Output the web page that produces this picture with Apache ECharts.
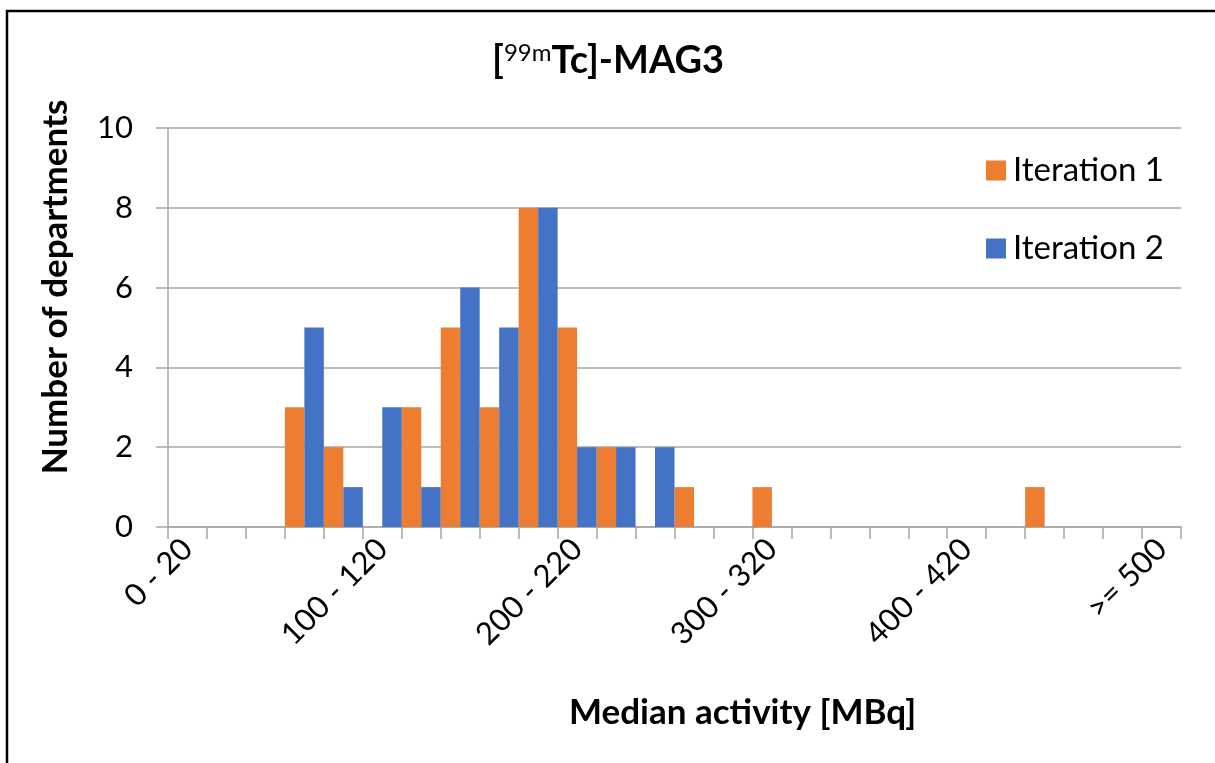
<!DOCTYPE html>
<html>
<head>
<meta charset="utf-8">
<script src="https://cdn.jsdelivr.net/npm/echarts@6/dist/echarts.min.js"></script>
<style>
html,body{margin:0;padding:0;background:#fff;}
#chart{width:1215px;height:763px;}
</style>
</head>
<body>
<div id="chart"></div>
<script>
var categories = ['0 - 20','20 - 40','40 - 60','60 - 80','80 - 100','100 - 120','120 - 140','140 - 160','160 - 180','180 - 200','200 - 220','220 - 240','240 - 260','260 - 280','280 - 300','300 - 320','320 - 340','340 - 360','360 - 380','380 - 400','400 - 420','420 - 440','440 - 460','460 - 480','480 - 500','>= 500'];
var iteration1 = [0,0,0,3,2,0,3,5,3,8,5,2,0,1,0,1,0,0,0,0,0,0,1,0,0,0];
var iteration2 = [0,0,0,5,1,3,1,6,5,8,2,2,2,0,0,0,0,0,0,0,0,0,0,0,0,0];
var yTicks = [0,2,4,6,8,10];

var FONT = 'Lato';
var chart = echarts.init(document.getElementById('chart'), null, {renderer:'canvas'});
chart.setOption({
  backgroundColor:'#fff',
  animation:false,
  title:[{
    text:'[{sup|99m}Tc]-MAG3',
    left:487, top:36,
    textStyle:{fontFamily:FONT,fontSize:38,fontWeight:'bold',color:'#000',
      rich:{sup:{fontFamily:FONT,fontSize:24,fontWeight:'normal',color:'#000',verticalAlign:'top',padding:[0,0,16,0]}}}
  },{
    text:'Median activity [MBq]',
    left:564, top:690,
    textStyle:{fontFamily:FONT,fontSize:35,fontWeight:'bold',color:'#000'}
  }],
  graphic:[{
    type:'rect', silent:true, z:100,
    shape:{x:7,y:11,width:1400,height:1000},
    style:{fill:'none',stroke:'#000',lineWidth:2.5}
  },{
    type:'text', silent:true,
    x:56, y:287, rotation:Math.PI/2,
    style:{text:'Number of departments',fontFamily:FONT,fontSize:35,fontWeight:'bold',fill:'#000',align:'center',verticalAlign:'middle'}
  }],
  legend:{
    orient:'vertical', left:981, top:149,
    itemWidth:20, itemHeight:20, itemGap:45,
    icon:'rect',
    textStyle:{fontFamily:FONT,fontSize:33,color:'#000',padding:[0,0,0,2]},
    data:['Iteration 1','Iteration 2']
  },
  grid:{left:168,right:34,top:128,bottom:236,containLabel:false},
  xAxis:{
    type:'category', data:categories, boundaryGap:true,
    axisLine:{lineStyle:{color:'#A6A6A6',width:1.5}},
    axisTick:{show:true,interval:0,length:12,lineStyle:{color:'#A6A6A6',width:1.5}},
    axisLabel:{interval:4,rotate:45,margin:17,fontFamily:FONT,fontSize:31,color:'#000'}
  },
  yAxis:{
    type:'value', min:yTicks[0], max:yTicks[yTicks.length-1], interval:2,
    axisLine:{show:true,lineStyle:{color:'#A6A6A6',width:1.5}},
    axisTick:{show:true,length:12,lineStyle:{color:'#A6A6A6',width:1.5}},
    splitLine:{lineStyle:{color:'#A6A6A6',width:1.5}},
    axisLabel:{margin:35,fontFamily:FONT,fontSize:31,color:'#000'}
  },
  series:[{
    name:'Iteration 1', type:'bar', data:iteration1,
    barGap:'0%', barCategoryGap:'0%',
    itemStyle:{color:'#ED7D31'}
  },{
    name:'Iteration 2', type:'bar', data:iteration2,
    barGap:'0%', barCategoryGap:'0%',
    itemStyle:{color:'#4472C4'}
  }]
});
</script>
</body>
</html>
